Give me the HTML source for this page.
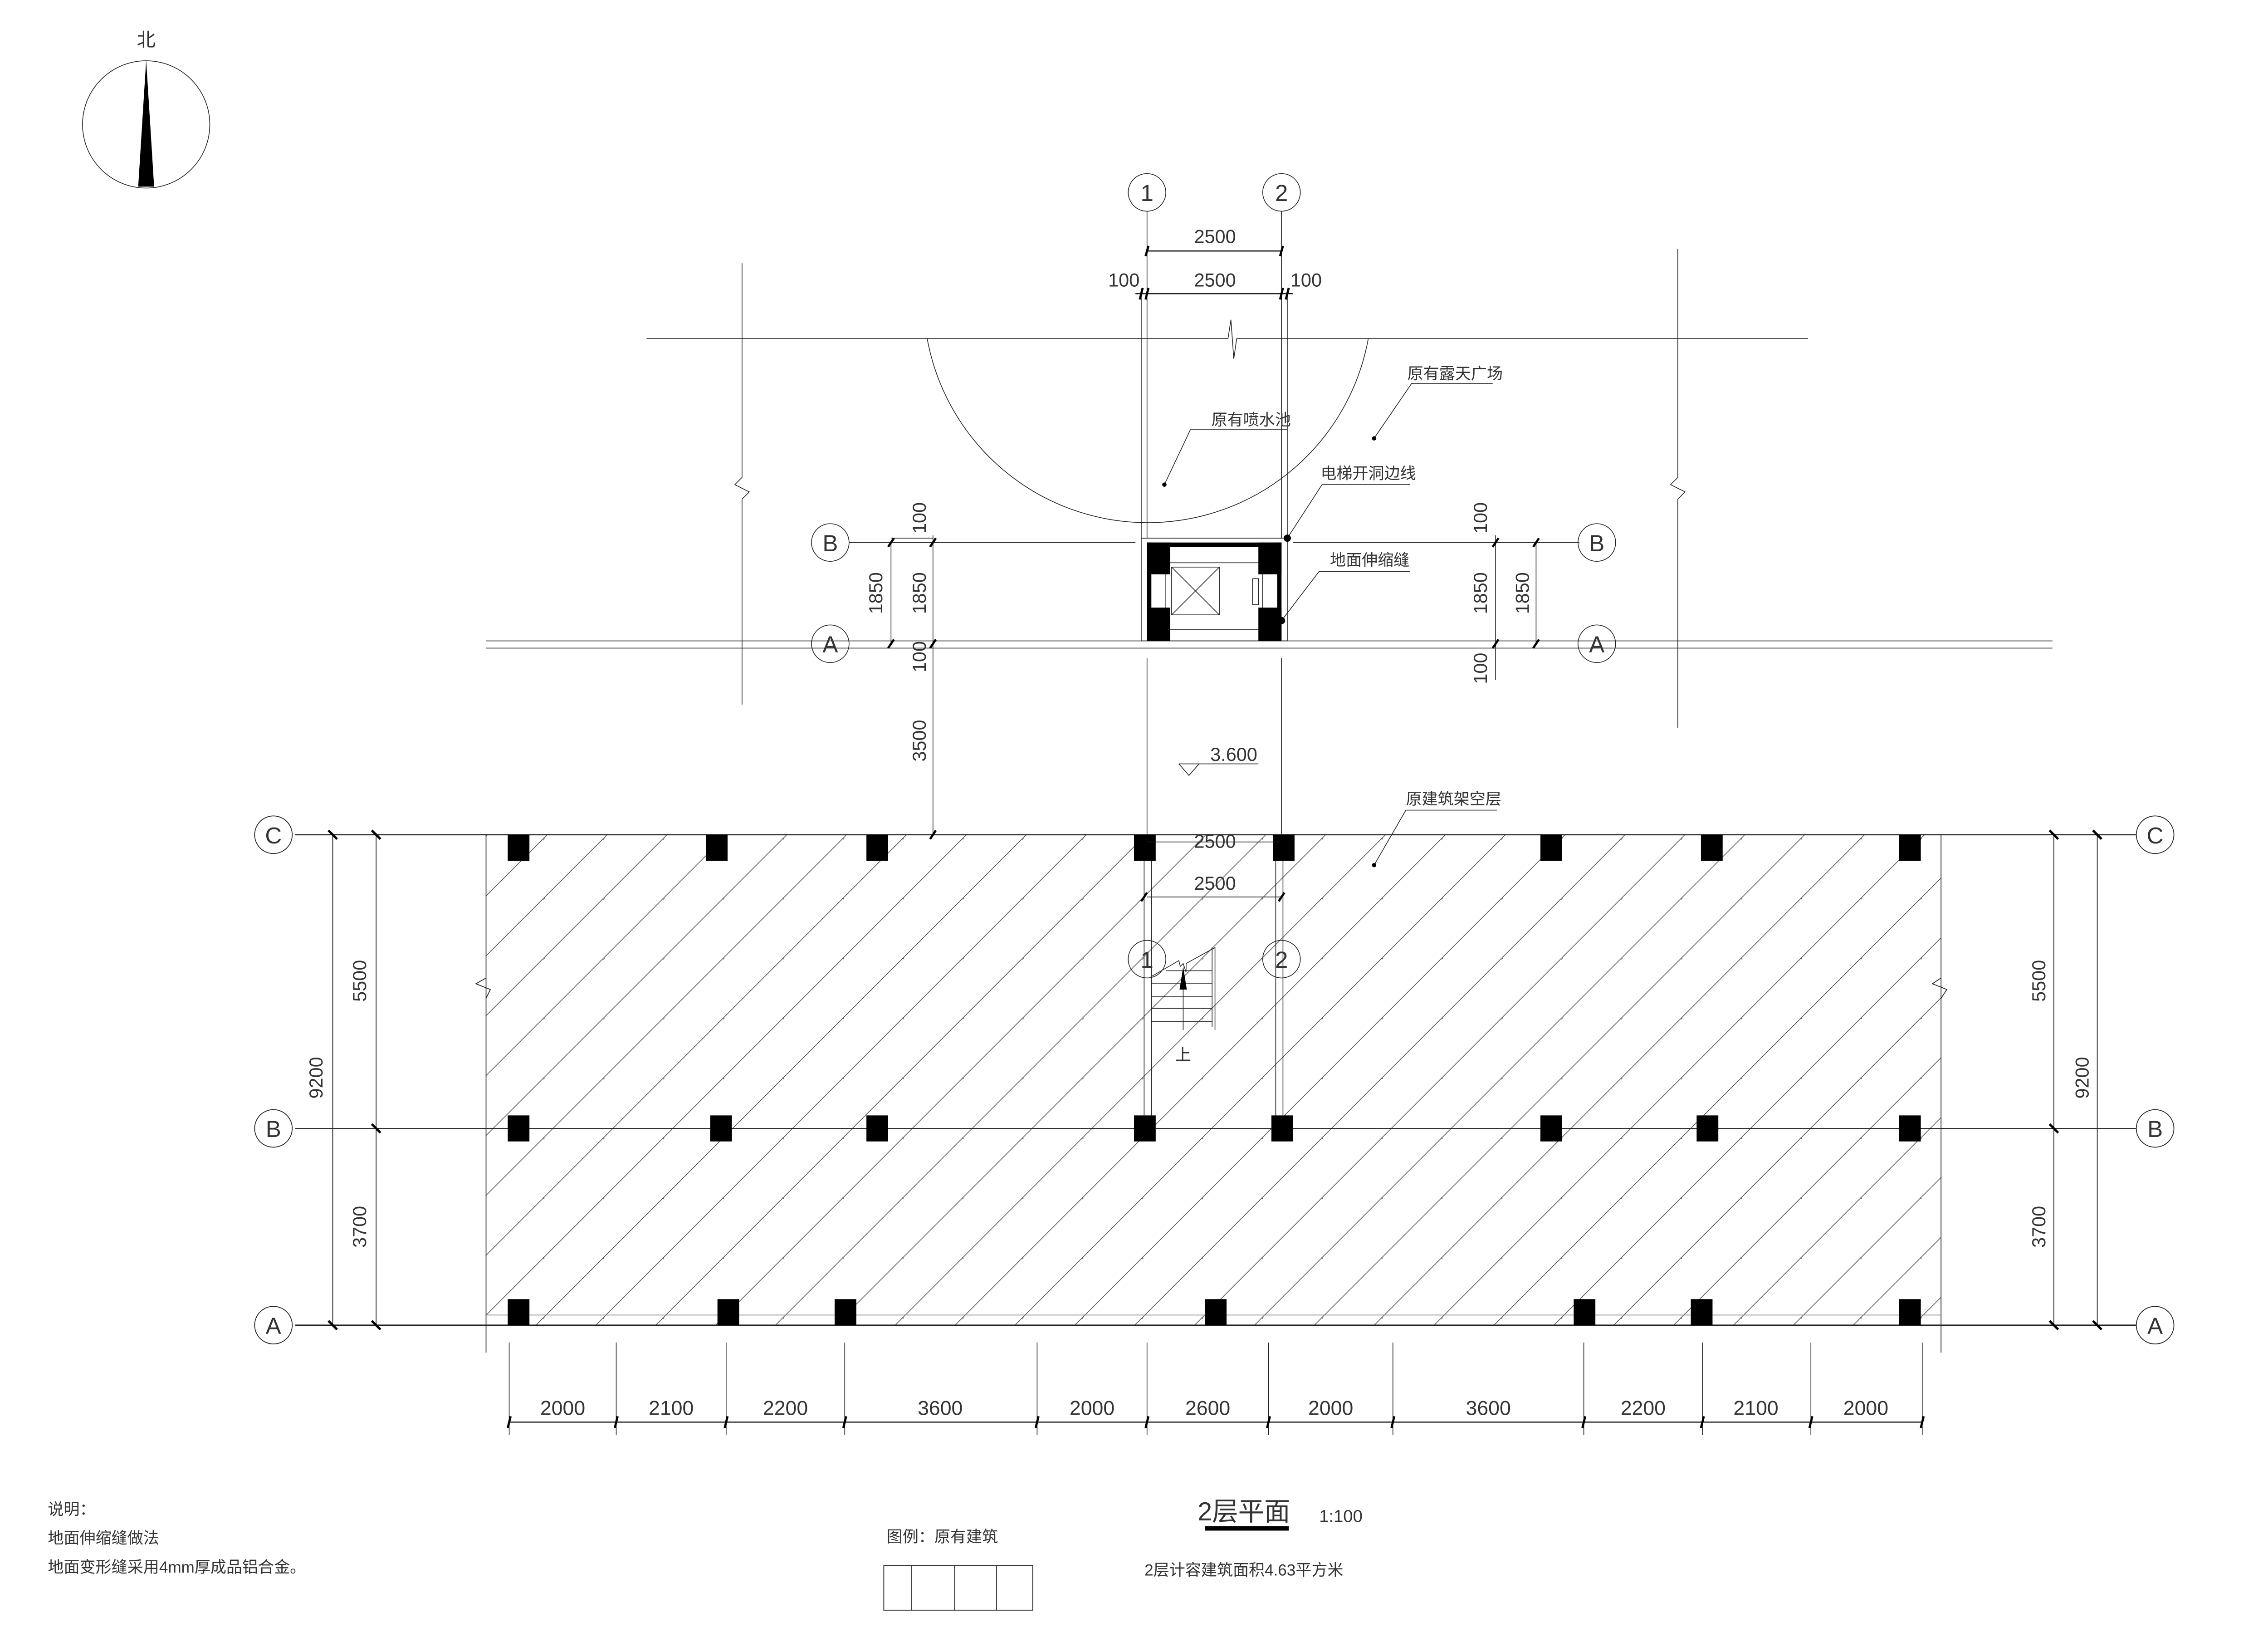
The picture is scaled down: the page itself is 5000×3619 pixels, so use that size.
<!DOCTYPE html>
<html><head><meta charset="utf-8"><style>
html,body{margin:0;padding:0;background:#fff}
svg{display:block}
text{font-family:"Liberation Sans","Noto Sans CJK SC",sans-serif;fill:#333}
</style></head><body>
<svg width="5000" height="3619" viewBox="0 0 1568 1135" xmlns="http://www.w3.org/2000/svg">
<defs>
<pattern id="h" patternUnits="userSpaceOnUse" width="41.4" height="41.4" x="3.1" y="0">
<line x1="-1" y1="42.4" x2="42.4" y2="-1" stroke="#444" stroke-width="0.45"/>
<line x1="-20" y1="20.7" x2="20.7" y2="-20" stroke="#444" stroke-width="0.45"/>
<line x1="20.7" y1="62" x2="62" y2="20.7" stroke="#444" stroke-width="0.45"/>
</pattern>
</defs>
<g stroke="#222" stroke-width="0.5" fill="none">
<circle cx="101" cy="86" r="44"/>
</g>
<polygon points="101,41.5 95.5,129 106.5,129" fill="#000"/>
<text x="101" y="32" font-size="13" text-anchor="middle">北</text>

<rect x="336" y="577" width="1006" height="339" fill="url(#h)"/>
<g stroke="#222" stroke-width="0.55" fill="none">
<line x1="336" y1="577" x2="336" y2="935"/>
<line x1="1342" y1="577" x2="1342" y2="935"/>
<line x1="204" y1="577" x2="1477" y2="577" stroke-width="0.8"/>
<line x1="204" y1="780" x2="1477" y2="780"/>
<line x1="204" y1="916" x2="1477" y2="916" stroke-width="0.8"/>
<line x1="336" y1="909" x2="1342" y2="909" stroke="#888"/>
<polyline points="336,676 329,680 339,684 336,690"/>
<polyline points="1342,676 1336,680 1346,684 1342,690"/>
<circle cx="189" cy="577" r="13"/><circle cx="189" cy="780" r="13"/><circle cx="189" cy="916" r="13"/>
<circle cx="1490" cy="577" r="13"/><circle cx="1490" cy="780" r="13"/><circle cx="1490" cy="916" r="13"/>
<line x1="230" y1="577" x2="230" y2="916"/><line x1="260" y1="577" x2="260" y2="916"/>
<line x1="1420" y1="577" x2="1420" y2="916"/><line x1="1450" y1="577" x2="1450" y2="916"/>
</g>
<g stroke="#000" stroke-width="1.6">
<line x1="227" y1="574" x2="233" y2="580"/><line x1="227" y1="913" x2="233" y2="919"/>
<line x1="257" y1="574" x2="263" y2="580"/><line x1="257" y1="777" x2="263" y2="783"/><line x1="257" y1="913" x2="263" y2="919"/>
<line x1="1417" y1="574" x2="1423" y2="580"/><line x1="1417" y1="777" x2="1423" y2="783"/><line x1="1417" y1="913" x2="1423" y2="919"/>
<line x1="1447" y1="574" x2="1453" y2="580"/><line x1="1447" y1="913" x2="1453" y2="919"/>
</g>
<g font-size="16" text-anchor="middle">
<text x="189" y="583">C</text><text x="189" y="786">B</text><text x="189" y="922">A</text>
<text x="1490" y="583">C</text><text x="1490" y="786">B</text><text x="1490" y="922">A</text>
</g>
<g font-size="13" text-anchor="middle">
<text transform="translate(223,745) rotate(-90)">9200</text>
<text transform="translate(253,678) rotate(-90)">5500</text>
<text transform="translate(253,848) rotate(-90)">3700</text>
<text transform="translate(1414,678) rotate(-90)">5500</text>
<text transform="translate(1444,745) rotate(-90)">9200</text>
<text transform="translate(1414,848) rotate(-90)">3700</text>
</g>

<g fill="#000">
<rect x="351" y="577" width="15" height="18"/><rect x="488" y="577" width="15" height="18"/><rect x="599" y="577" width="15" height="18"/>
<rect x="784" y="577" width="15" height="18"/><rect x="880" y="577" width="15" height="18"/><rect x="1065" y="577" width="15" height="18"/>
<rect x="1176" y="577" width="15" height="18"/><rect x="1313" y="577" width="15" height="18"/>
<rect x="351" y="771" width="15" height="18"/><rect x="491" y="771" width="15" height="18"/><rect x="599" y="771" width="15" height="18"/>
<rect x="784" y="771" width="15" height="18"/><rect x="879" y="771" width="15" height="18"/><rect x="1065" y="771" width="15" height="18"/>
<rect x="1173" y="771" width="15" height="18"/><rect x="1313" y="771" width="15" height="18"/>
<rect x="351" y="898" width="15" height="18"/><rect x="496" y="898" width="15" height="18"/><rect x="577" y="898" width="15" height="18"/>
<rect x="833" y="898" width="15" height="18"/><rect x="1088" y="898" width="15" height="18"/><rect x="1169" y="898" width="15" height="18"/>
<rect x="1313" y="898" width="15" height="18"/>
</g>

<g stroke="#222" stroke-width="0.5">
<line x1="352" y1="983" x2="1329" y2="983" stroke-width="0.8"/>
<line x1="352" y1="928" x2="352" y2="992"/><line x1="426" y1="928" x2="426" y2="992"/><line x1="502" y1="928" x2="502" y2="992"/>
<line x1="584" y1="928" x2="584" y2="992"/><line x1="717" y1="928" x2="717" y2="992"/><line x1="793" y1="928" x2="793" y2="992"/>
<line x1="877" y1="928" x2="877" y2="992"/><line x1="963" y1="928" x2="963" y2="992"/><line x1="1095" y1="928" x2="1095" y2="992"/>
<line x1="1177" y1="928" x2="1177" y2="992"/><line x1="1252" y1="928" x2="1252" y2="992"/><line x1="1329" y1="928" x2="1329" y2="992"/>
</g>
<g stroke="#000" stroke-width="1.5">
<line x1="351" y1="987" x2="353" y2="979"/><line x1="425" y1="987" x2="427" y2="979"/><line x1="501" y1="987" x2="503" y2="979"/>
<line x1="583" y1="987" x2="585" y2="979"/><line x1="716" y1="987" x2="718" y2="979"/><line x1="792" y1="987" x2="794" y2="979"/>
<line x1="876" y1="987" x2="878" y2="979"/><line x1="962" y1="987" x2="964" y2="979"/><line x1="1094" y1="987" x2="1096" y2="979"/>
<line x1="1176" y1="987" x2="1178" y2="979"/><line x1="1251" y1="987" x2="1253" y2="979"/><line x1="1328" y1="987" x2="1330" y2="979"/>
</g>
<g font-size="14" text-anchor="middle">
<text x="389" y="978">2000</text><text x="464" y="978">2100</text><text x="543" y="978">2200</text><text x="650" y="978">3600</text>
<text x="755" y="978">2000</text><text x="835" y="978">2600</text><text x="920" y="978">2000</text><text x="1029" y="978">3600</text>
<text x="1136" y="978">2200</text><text x="1214" y="978">2100</text><text x="1290" y="978">2000</text>
</g>

<g stroke="#222" stroke-width="0.5" fill="none">
<circle cx="793" cy="133" r="13"/><circle cx="886" cy="133" r="13"/>
<line x1="793" y1="146" x2="793" y2="372"/><line x1="886" y1="146" x2="886" y2="372"/>
<line x1="789" y1="200" x2="789" y2="372"/><line x1="890" y1="200" x2="890" y2="372"/>
<line x1="793" y1="173.5" x2="886" y2="173.5" stroke-width="0.8"/>
<line x1="785" y1="203" x2="894" y2="203" stroke-width="0.8"/>
<polyline points="447,234 849,234 851,221 853,248 855,234 1250,234"/>
<polyline points="513,182 513,330 508,335 518,340 513,345 513,487"/>
<polyline points="1160,172 1160,330 1155,335 1165,340 1160,345 1160,503"/>
<path d="M641,234 A155,155 0 0 0 946,234"/>
<line x1="587" y1="375" x2="785" y2="375"/><line x1="894" y1="375" x2="1092" y2="375"/>
<line x1="616" y1="372" x2="645" y2="372"/>
<line x1="336" y1="443" x2="1419" y2="443"/><line x1="336" y1="448" x2="1419" y2="448"/>
<circle cx="574" cy="375" r="13"/><circle cx="1104" cy="375" r="13"/>
<circle cx="574" cy="445" r="13"/><circle cx="1104" cy="445" r="13"/>
<line x1="616" y1="375" x2="616" y2="445"/><line x1="645" y1="370" x2="645" y2="577"/>
<line x1="1034" y1="370" x2="1034" y2="470"/><line x1="1062" y1="375" x2="1062" y2="445"/>
<line x1="793" y1="455" x2="793" y2="577"/><line x1="886" y1="455" x2="886" y2="577"/>
<rect x="789" y="372" width="101" height="71"/>
<rect x="806" y="389" width="67" height="46"/>
<rect x="810" y="392" width="33" height="33"/>
<line x1="810" y1="392" x2="843" y2="425"/><line x1="843" y1="392" x2="810" y2="425"/>
<rect x="866" y="400" width="4" height="18"/>
<polyline points="950,303 976,265 1032,265"/>
<polyline points="805,335 823,297 890,297"/>
<polyline points="890,372 914,335 975,335"/>
<polyline points="886,429 912,395 975,395"/>
<polyline points="950,598 972,560 1035,560"/>
<line x1="815" y1="528" x2="870" y2="528"/>
<polyline points="815,528 822,536 829,528"/>
<line x1="791" y1="595" x2="791" y2="771"/><line x1="796" y1="595" x2="796" y2="771"/>
<line x1="882" y1="595" x2="882" y2="771"/><line x1="887" y1="595" x2="887" y2="771"/>
<line x1="793" y1="582" x2="886" y2="582"/><line x1="793" y1="620" x2="886" y2="620"/>
<circle cx="793" cy="663" r="13"/><circle cx="886" cy="663" r="13"/>
<polyline points="796,675 815,664 816,668 818,666 820,672 820,666 840,655 840,712"/>
<line x1="838" y1="655" x2="838" y2="710"/>
<line x1="806" y1="671" x2="838" y2="671"/><line x1="796" y1="680" x2="838" y2="680"/>
<line x1="796" y1="689" x2="838" y2="689"/><line x1="796" y1="697" x2="838" y2="697"/><line x1="796" y1="706" x2="838" y2="706"/>
<line x1="796" y1="675" x2="796" y2="706"/>
<line x1="818" y1="670" x2="818" y2="712"/>
</g>
<polygon points="818,668 815.5,684 820.5,684" fill="#000"/>
<g fill="#000">
<rect x="793" y="375" width="16" height="22"/><rect x="870" y="375" width="16" height="22"/>
<rect x="793" y="420" width="16" height="23"/><rect x="870" y="420" width="16" height="23"/>
<rect x="793" y="375" width="93" height="3"/>
<rect x="793" y="375" width="3" height="68"/><rect x="883" y="375" width="3" height="68"/>
<circle cx="890" cy="372" r="2.5"/><circle cx="886" cy="429" r="2.5"/>
<circle cx="950" cy="303" r="1.5"/><circle cx="805" cy="335" r="1.5"/><circle cx="950" cy="598" r="1.5"/>
</g>
<g stroke="#000" stroke-width="1.5">
<line x1="792" y1="177" x2="794" y2="170"/><line x1="885" y1="177" x2="887" y2="170"/>
<line x1="788" y1="207" x2="790" y2="199"/><line x1="792" y1="207" x2="794" y2="199"/>
<line x1="885" y1="207" x2="887" y2="199"/><line x1="889" y1="207" x2="891" y2="199"/>
<line x1="614" y1="378" x2="618" y2="372"/><line x1="614" y1="448" x2="618" y2="442"/>
<line x1="643" y1="378" x2="647" y2="372"/><line x1="643" y1="448" x2="647" y2="442"/><line x1="643" y1="580" x2="647" y2="574"/>
<line x1="1032" y1="378" x2="1036" y2="372"/><line x1="1032" y1="448" x2="1036" y2="442"/>
<line x1="1060" y1="378" x2="1064" y2="372"/><line x1="1060" y1="448" x2="1064" y2="442"/>
<line x1="789" y1="586" x2="793" y2="579"/><line x1="884" y1="586" x2="888" y2="579"/>
<line x1="789" y1="623" x2="793" y2="617"/><line x1="884" y1="623" x2="888" y2="617"/>
</g>
<g font-size="16" text-anchor="middle">
<text x="793" y="139">1</text><text x="886" y="139">2</text>
<text x="793" y="669">1</text><text x="886" y="669">2</text>
<text x="574" y="381">B</text><text x="1104" y="381">B</text>
<text x="574" y="451">A</text><text x="1104" y="451">A</text>
</g>
<g font-size="13" text-anchor="middle">
<text x="840" y="168">2500</text><text x="840" y="198">2500</text>
<text x="777" y="198">100</text><text x="903" y="198">100</text>
<text x="840" y="586">2500</text><text x="840" y="615">2500</text>
<text transform="translate(610,410) rotate(-90)">1850</text>
<text transform="translate(640,410) rotate(-90)">1850</text>
<text transform="translate(640,358) rotate(-90)">100</text>
<text transform="translate(640,454) rotate(-90)">100</text>
<text transform="translate(640,512) rotate(-90)">3500</text>
<text transform="translate(1028,410) rotate(-90)">1850</text>
<text transform="translate(1057,410) rotate(-90)">1850</text>
<text transform="translate(1028,358) rotate(-90)">100</text>
<text transform="translate(1028,462) rotate(-90)">100</text>
<text x="853" y="526">3.600</text>
</g>
<text x="818" y="733" font-size="11" text-anchor="middle">上</text>
<g font-size="11" text-anchor="middle">
<text x="1006" y="262">原有露天广场</text>
<text x="865" y="294">原有喷水池</text>
<text x="946" y="331">电梯开洞边线</text>
<text x="947" y="391">地面伸缩缝</text>
<text x="1005" y="556">原建筑架空层</text>
</g>

<text x="860" y="1051" font-size="18" text-anchor="middle">2层平面</text>
<rect x="833" y="1055" width="58" height="3" fill="#000"/>
<text x="912" y="1052" font-size="12">1:100</text>
<text x="860" y="1089" font-size="11" text-anchor="middle">2层计容建筑面积4.63平方米</text>
<text x="613" y="1066" font-size="11">图例：原有建筑</text>
<g stroke="#333" stroke-width="0.6" fill="none">
<rect x="611" y="1082" width="103" height="31"/>
<line x1="630" y1="1082" x2="630" y2="1113"/><line x1="660" y1="1082" x2="660" y2="1113"/><line x1="689" y1="1082" x2="689" y2="1113"/>
</g>
<g font-size="11">
<text x="33" y="1047">说明：</text>
<text x="33" y="1067">地面伸缩缝做法</text>
<text x="33" y="1087">地面变形缝采用4mm厚成品铝合金。</text>
</g>
</svg>
</body></html>
